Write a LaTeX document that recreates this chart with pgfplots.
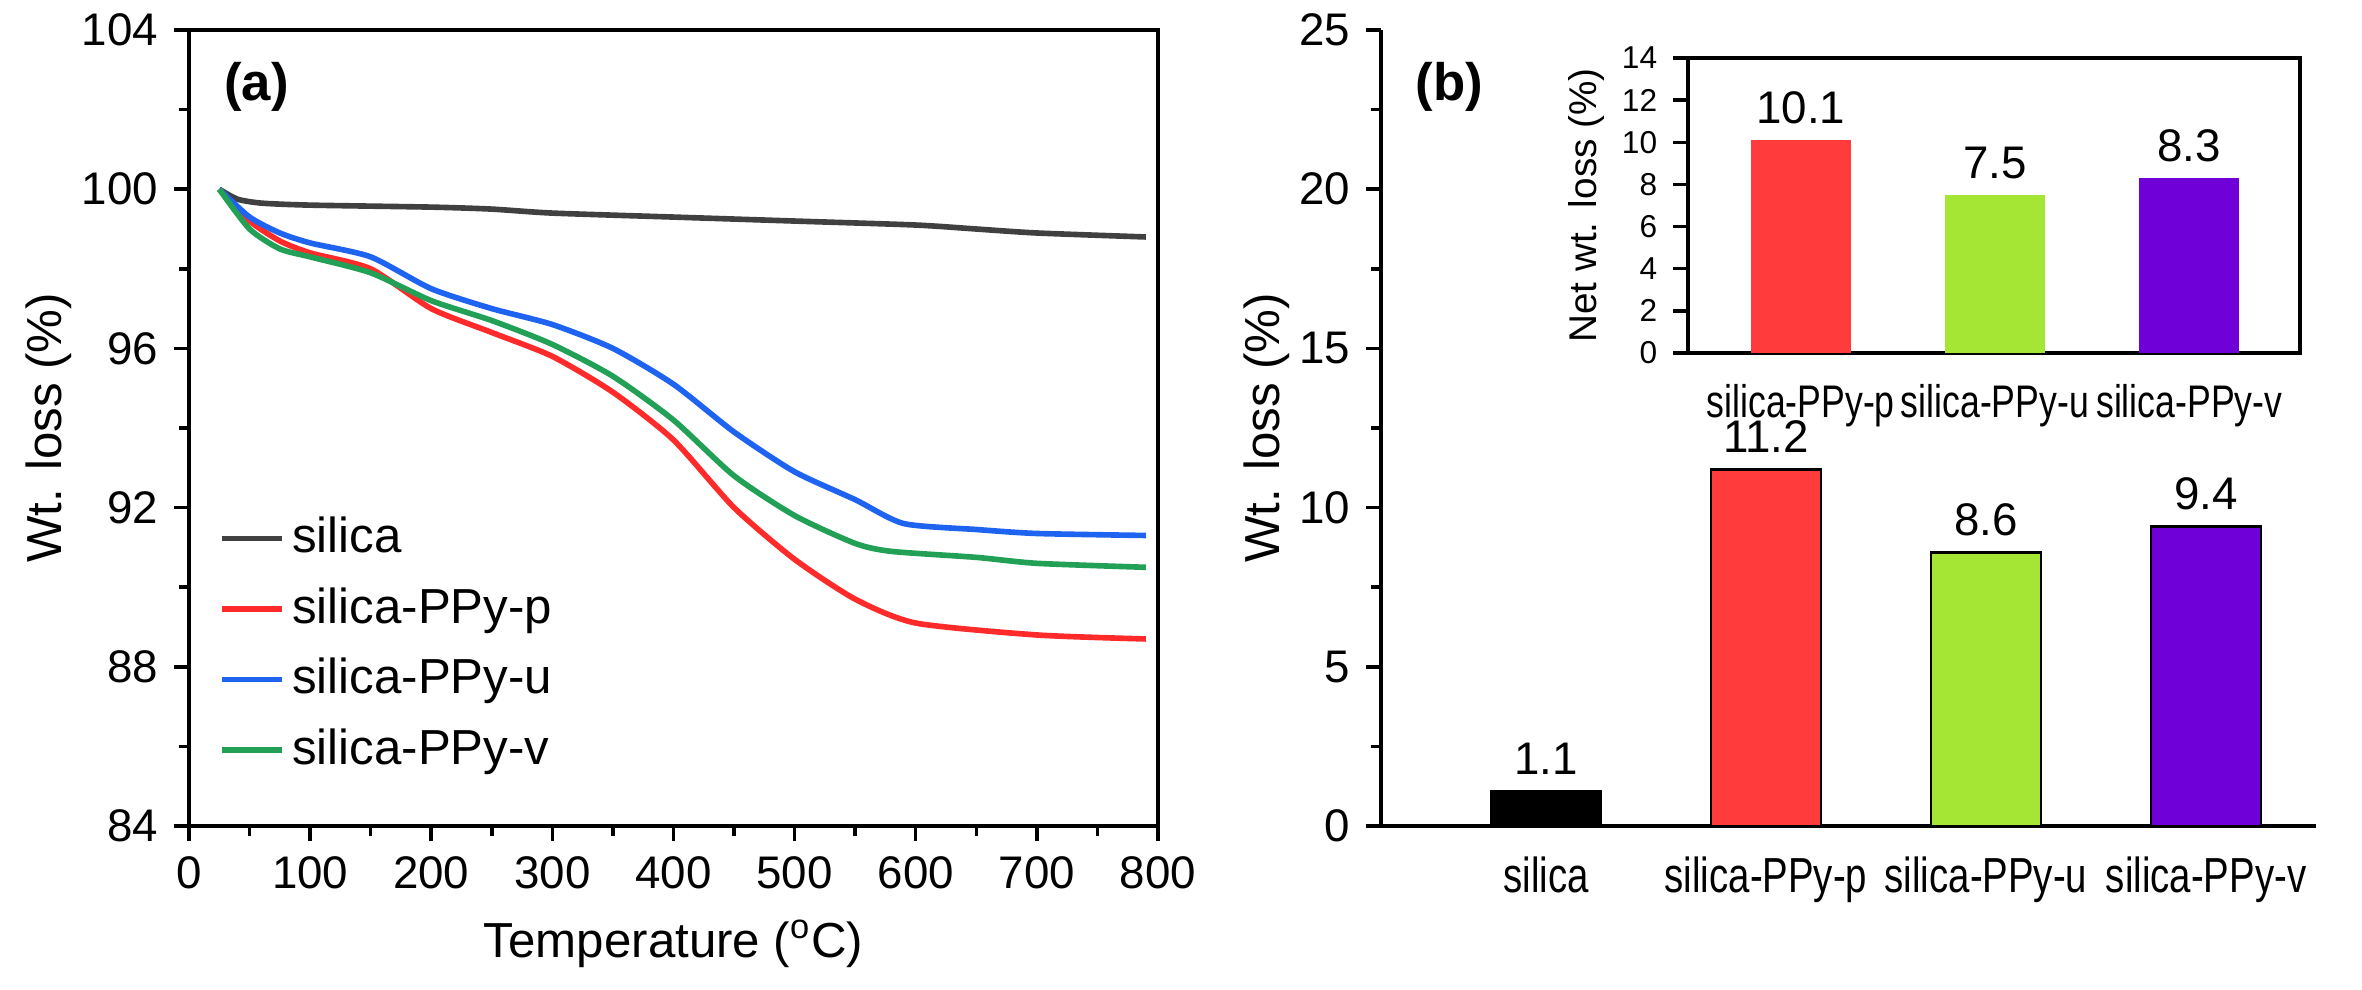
\documentclass[border=0pt]{standalone}
\usepackage{pgfplots}
\pgfplotsset{compat=1.18}
\usepackage{fontspec}
\setmainfont{Liberation Sans}
\newfontfamily\narrow[FakeStretch=0.78]{Liberation Sans}
\definecolor{cgr}{HTML}{404040}
\definecolor{cred}{HTML}{FF2A2A}
\definecolor{cblu}{HTML}{1E64F0}
\definecolor{cgrn}{HTML}{22A055}
\definecolor{bred}{HTML}{FF3B3B}
\definecolor{bgrn}{HTML}{A5E634}
\definecolor{bpur}{HTML}{7000D8}
\begin{document}
\fontsize{13}{16}\selectfont
\begin{tikzpicture}
\path[use as bounding box] (0,0) rectangle (236.2mm,98.9mm);
\pgfplotsset{every axis/.append style={scale only axis, axis line style={line width=1.4pt}, tick style={line width=1pt,black}, /pgf/number format/assume math mode=true, tick label style={font=\fontsize{13}{16}\selectfont}, label style={font=\fontsize{14}{17}\selectfont}, ylabel shift=-6pt}}
\begin{axis}[at={(18.9mm,16.3mm)}, anchor=south west, width=96.9mm, height=79.6mm,
 xmin=0,xmax=800,ymin=84,ymax=104, xtick={0,100,...,800}, ytick={84,88,...,104},
 minor x tick num=1, minor y tick num=1, tick align=outside, xtick pos=bottom, ytick pos=left,
 xlabel={Temperature (\textsuperscript{o}C)}, ylabel={Wt. loss (\%)},
 legend style={draw=none, fill=none, at={(0.02,0.05)}, anchor=south west, font=\fontsize{14}{17}\selectfont, row sep=4pt},
 legend cell align=left, every axis plot/.append style={line width=1.6pt, smooth, tension=0.4}]
\addplot[cgr] coordinates {(25,100)(40,99.75)(60,99.65)(100,99.6)(200,99.55)(250,99.5)(300,99.4)(400,99.3)(500,99.2)(600,99.1)(650,99.0)(700,98.9)(790,98.8)};
\addplot[cred] coordinates {(25,100)(50,99.2)(75,98.7)(100,98.4)(150,98.0)(200,97.0)(250,96.4)(300,95.8)(350,94.9)(400,93.7)(450,92.0)(500,90.7)(550,89.7)(600,89.1)(700,88.8)(790,88.7)};
\addplot[cblu] coordinates {(25,100)(50,99.3)(75,98.9)(100,98.65)(150,98.3)(200,97.5)(250,97.0)(300,96.6)(350,96.0)(400,95.1)(450,93.9)(500,92.9)(550,92.2)(590,91.6)(650,91.45)(700,91.35)(790,91.3)};
\addplot[cgrn] coordinates {(25,100)(50,99.0)(75,98.5)(100,98.3)(150,97.9)(200,97.2)(250,96.7)(300,96.1)(350,95.3)(400,94.2)(450,92.8)(500,91.8)(550,91.1)(580,90.9)(650,90.75)(700,90.6)(790,90.5)};
\legend{silica,silica-PPy-p,silica-PPy-u,silica-PPy-v}
\node[anchor=north west,font=\bfseries\fontsize{15}{18}\selectfont] at (rel axis cs:0.02,0.98) {(a)};
\end{axis}
\begin{axis}[at={(138.1mm,16.3mm)}, anchor=south west, width=93.5mm, height=79.6mm,
 xmin=-0.75,xmax=3.5,ymin=0,ymax=25, ytick={0,5,...,25}, xtick={0,1,2,3},
 xticklabels={silica,silica-PPy-p,silica-PPy-u,silica-PPy-v}, xtick style={draw=none},
 xticklabel style={font=\narrow\fontsize{14}{17}\selectfont},
 minor y tick num=1, tick align=outside, ytick pos=left, axis x line*=bottom, axis y line*=left,
 ylabel={Wt. loss (\%)}, ybar, bar width=11mm, bar shift=0pt,
 nodes near coords, nodes near coords style={font=\fontsize{13}{16}\selectfont, /pgf/number format/fixed, /pgf/number format/precision=1, /pgf/number format/fixed zerofill},
 every axis plot/.append style={draw=black, line width=0.8pt}]
\addplot[fill=black] coordinates {(0,1.1)};
\addplot[fill=bred] coordinates {(1,11.2)};
\addplot[fill=bgrn] coordinates {(2,8.6)};
\addplot[fill=bpur] coordinates {(3,9.4)};
\node[anchor=north west,font=\bfseries\fontsize{15}{18}\selectfont] at (rel axis cs:0.02,0.98) {(b)};
\end{axis}
\begin{axis}[at={(168.8mm,63.6mm)}, anchor=south west, width=61.2mm, height=29.5mm,
 xmin=-0.58,xmax=2.57,ymin=0,ymax=14, ytick={0,2,...,14}, xtick={0,1,2},
 xticklabels={silica-PPy-p,silica-PPy-u,silica-PPy-v}, xtick style={draw=none},
 tick align=outside, ytick pos=left, axis line style={line width=1pt},
 xticklabel style={font=\narrow\fontsize{13}{16}\selectfont}, yticklabel style={font=\fontsize{9}{11}\selectfont},
 ylabel={Net wt. loss (\%)}, ylabel style={font=\fontsize{11}{13}\selectfont}, ylabel shift=-4pt,
 ybar, bar width=10mm, bar shift=0pt,
 nodes near coords, nodes near coords style={font=\fontsize{13}{16}\selectfont, /pgf/number format/fixed, /pgf/number format/precision=1, /pgf/number format/fixed zerofill},
 every axis plot/.append style={draw=none}]
\addplot[fill=bred] coordinates {(0,10.1)};
\addplot[fill=bgrn] coordinates {(1,7.5)};
\addplot[fill=bpur] coordinates {(2,8.3)};
\end{axis}
\end{tikzpicture}
\end{document}
